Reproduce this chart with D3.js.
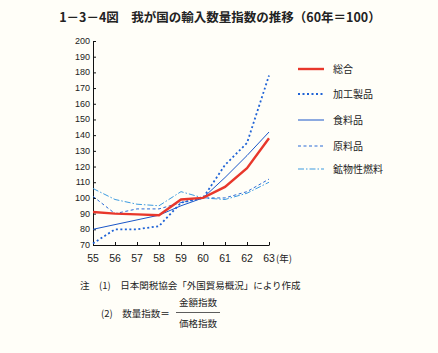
<!DOCTYPE html>
<meta charset="utf-8">
<script src="https://d3js.org/d3.v7.min.js"></script>
<style>
  body { margin: 0; background: #fffef8; }
  text { font-family: "Noto Sans CJK JP", sans-serif; fill: #222; }
  .num { font-family: "Liberation Sans Narrow", "Liberation Sans", sans-serif; }
</style>
<div id="chart"></div>
<script>

// years (昭和) and index values, 60年 = 100
const years = [55, 56, 57, 58, 59, 60, 61, 62, 63];
const sogo    = [91, 90, 89.5, 89, 99, 100, 107, 119, 138];   // 総合
const kakou   = [71, 80, 80, 82, 97, 100, 121, 135, 178];     // 加工製品
const shokury = [80, 83, 86, 89, 95, 100, 113, 127, 142];     // 食料品
const genryo  = [101, 90, 93, 93, 97, 100, 100, 104, 112];    // 原料品
const kobutsu = [106, 99, 96, 95, 104, 100, 99, 103, 110];    // 鉱物性燃料
const yTicks = d3.range(70, 201, 10);

const series = [
  {name: "総合", values: sogo, color: "#e8372b", width: 2.4, dash: null},
  {name: "加工製品", values: kakou, color: "#1f63d6", width: 1.8, dash: "2,2.5"},
  {name: "食料品", values: shokury, color: "#1a56c8", width: 1, dash: null},
  {name: "原料品", values: genryo, color: "#2a6ad6", width: 1, dash: "3,2.5"},
  {name: "鉱物性燃料", values: kobutsu, color: "#3c9be0", width: 1, dash: "6,2,1.5,2"}
];

const W = 438, H = 353;
const svg = d3.select("#chart").append("svg")
  .attr("width", W).attr("height", H);

svg.append("rect").attr("width", W).attr("height", H).attr("fill", "#fffef8");

const x = d3.scaleLinear().domain([55, 63]).range([93, 269]);
const y = d3.scaleLinear().domain([70, 200]).range([245, 41]);

// title
svg.append("text")
  .attr("x", 220).attr("y", 22)
  .attr("text-anchor", "middle")
  .style("font-size", "12.5px").style("font-weight", "bold")
  .text("1－3－4図　我が国の輸入数量指数の推移（60年＝100）");

// y axis
const yAxis = svg.append("g")
  .attr("transform", `translate(${x(55)},0)`)
  .call(d3.axisRight(y).tickValues(yTicks).tickSize(3).tickFormat(""));
yAxis.select(".domain").attr("stroke", "#111");
yAxis.selectAll(".tick line").attr("stroke", "#111");
svg.append("g").selectAll("text")
  .data(yTicks)
  .join("text")
    .attr("class", "num")
    .attr("x", x(55) - 3)
    .attr("y", d => y(d) + 3)
    .attr("text-anchor", "end")
    .style("font-size", "9px")
    .text(d => d);

// x axis
const xAxis = svg.append("g")
  .attr("transform", `translate(0,${y(70)})`)
  .call(d3.axisTop(x).tickValues(years).tickSize(3).tickSizeOuter(0).tickFormat(""));
xAxis.select(".domain").attr("stroke", "#111");
xAxis.selectAll(".tick line").attr("stroke", "#111");
svg.append("g").selectAll("text")
  .data(years)
  .join("text")
    .attr("class", "num")
    .attr("x", d => x(d))
    .attr("y", y(70) + 17)
    .attr("text-anchor", "middle")
    .style("font-size", "10.5px")
    .text(d => d);
svg.append("text")
  .attr("x", x(63) + 7).attr("y", y(70) + 17)
  .style("font-size", "9.5px")
  .text("(年)");

// lines
const line = d3.line()
  .x((d, i) => x(years[i]))
  .y(d => y(d));

svg.append("g").selectAll("path")
  .data(series.slice().reverse())
  .join("path")
    .attr("d", d => line(d.values))
    .attr("fill", "none")
    .attr("stroke", d => d.color)
    .attr("stroke-width", d => d.width)
    .attr("stroke-dasharray", d => d.dash);

// legend
const legendY = [69, 94, 120, 146, 169];
const legend = svg.append("g").selectAll("g")
  .data(series)
  .join("g")
    .attr("transform", (d, i) => `translate(298,${legendY[i]})`);
legend.append("line")
  .attr("x1", 0).attr("x2", 26)
  .attr("stroke", d => d.color)
  .attr("stroke-width", d => d.width)
  .attr("stroke-dasharray", d => d.dash);
legend.append("text")
  .attr("x", 35).attr("y", 4)
  .style("font-size", "10px")
  .text(d => d.name);

// notes
svg.append("text")
  .attr("x", 80).attr("y", 289)
  .style("font-size", "9.5px")
  .text("注　(1)　日本関税協会「外国貿易概況」により作成");
svg.append("text")
  .attr("x", 101).attr("y", 317)
  .style("font-size", "9.5px")
  .text("(2)　数量指数＝");
svg.append("text")
  .attr("x", 198).attr("y", 306)
  .attr("text-anchor", "middle")
  .style("font-size", "9.5px")
  .text("金額指数");
svg.append("line")
  .attr("x1", 176).attr("x2", 220)
  .attr("y1", 312.5).attr("y2", 312.5)
  .attr("stroke", "#333").attr("stroke-width", 0.8);
svg.append("text")
  .attr("x", 198).attr("y", 327)
  .attr("text-anchor", "middle")
  .style("font-size", "9.5px")
  .text("価格指数");

</script>
